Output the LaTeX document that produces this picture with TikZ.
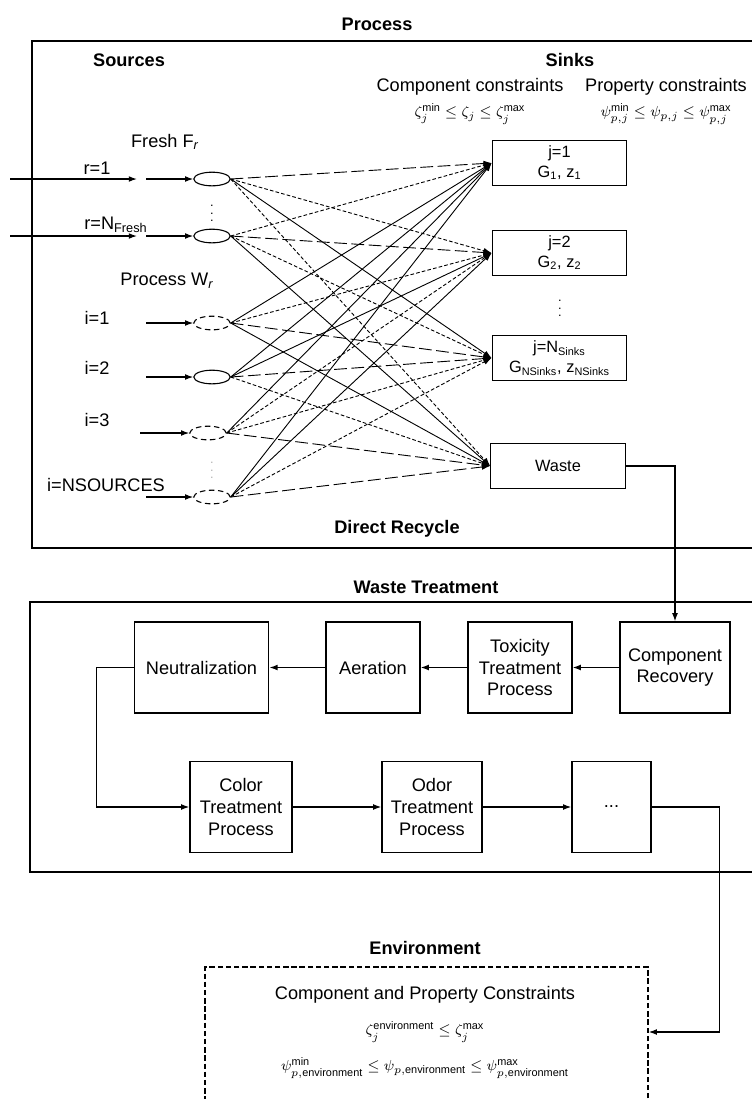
\documentclass[tikz,border=0pt]{standalone}
\usepackage{fontspec}
\setmainfont{Liberation Sans}
\usetikzlibrary{arrows.meta,shapes.geometric}

\begin{document}
\begin{tikzpicture}[x=0.55pt,y=-0.55pt,
  >={Latex[length=4.5pt,width=3.2pt]},
  frame/.style={draw,line width=0.8pt},
  head/.style={font=\bfseries},
  box/.style={draw,line width=0.7pt,align=center,inner sep=2pt},
  sink/.style={box,minimum width=74pt,minimum height=25pt,font=\small},
  unit/.style={box,minimum height=50pt},
  src/.style={ellipse,draw,line width=0.6pt,minimum width=20pt,minimum height=7.5pt,inner sep=0pt},
  eqn/.style={font=\footnotesize,inner sep=1pt},
  more/.style={font=\scriptsize,inner sep=0pt},
  feed/.style={->,line width=0.7pt},
  flow/.style={->,line width=0.7pt},
  net/.style={->,line width=0.5pt},
  solidlink/.style={net},
  longlink/.style={net,dash pattern=on 7pt off 2.5pt},
  dotlink/.style={net,dash pattern=on 2pt off 1.2pt}
]
  \useasboundingbox (0,0) rectangle (752,1099);
  \clip (0,0) rectangle (752,1099);

  % process block
  \node[head] (ptitle) at (377,24) {Process};
  \draw[frame] (32,41) rectangle (770,548);
  \node[head] (srchead) at (129,60) {Sources};
  \node[head] (sinkhead) at (570,60) {Sinks};
  \node[inner sep=1pt] (compc) at (470,87) {Component constraints};
  \node[inner sep=1pt] (propc) at (666,87) {Property constraints};
  \node[eqn] (compeq) at (470,114) {$\zeta_j^{\min}\le\zeta_j\le\zeta_j^{\max}$};
  \node[eqn] (propeq) at (666,114) {$\psi_{p,j}^{\min}\le\psi_{p,j}\le\psi_{p,j}^{\max}$};

  % sources
  \node (freshlbl) at (165,142) {Fresh F\textsubscript{\itshape r}};
  \node (proclbl) at (167,281) {Process W\textsubscript{\itshape r}};
  \node (r1lbl) at (97,168) {r=1};
  \node (rNlbl) at (116,225) {r=N\textsubscript{Fresh}};
  \node (i1lbl) at (97,318) {i=1};
  \node (i2lbl) at (97,368) {i=2};
  \node (i3lbl) at (97,420) {i=3};
  \node (iNlbl) at (106,485) {i=NSOURCES};

  \node[src] (fr1) at (212,179) {};
  \node[src] (frN) at (212,236) {};
  \node[src,densely dashed] (pw1) at (212,323) {};
  \node[src] (pw2) at (212,377) {};
  \node[src,densely dashed] (pw3) at (208,433) {};
  \node[src,densely dashed] (pwN) at (212,497) {};
  \node[more] (fdots) at (212,208) {$\vdots$};
  \node[more,gray!60] (pdots) at (212,465) {$\vdots$};

  % fresh water enters from outside
  \coordinate (fx1) at (10,179);
  \coordinate (fg1) at (137,179);
  \coordinate (fxN) at (10,236);
  \coordinate (fgN) at (137,236);
  \draw[feed] (fx1) -- (fg1);
  \draw[feed] (fxN) -- (fgN);

  \foreach \s/\y in {fr1/179,frN/236,pw1/323,pw2/377,pwN/497}
    \draw[feed] (146,\y) -- (\s.west);
  \draw[feed] (140,433) -- (pw3.west);

  % sinks
  \node[sink] (sk1) at (559.5,163) {j=1\\G\textsubscript{1}, z\textsubscript{1}};
  \node[sink] (sk2) at (559.5,253) {j=2\\G\textsubscript{2}, z\textsubscript{2}};
  \node[more] (sdots) at (560,303) {$\vdots$};
  \node[sink] (skN) at (559.5,358) {j=N\textsubscript{Sinks}\\G\textsubscript{NSinks}, z\textsubscript{NSinks}};
  \node[sink] (waste) at (558,466) {Waste};
  \node[head] (recycle) at (397,529) {Direct Recycle};

  % direct recycle network
  \foreach \s/\ta/\tb/\tc/\td in {
      fr1/longlink/dotlink/solidlink/dotlink,
      frN/dotlink/longlink/dotlink/solidlink,
      pw1/solidlink/dotlink/longlink/solidlink,
      pw2/solidlink/solidlink/longlink/dotlink,
      pw3/solidlink/dotlink/dotlink/longlink,
      pwN/solidlink/solidlink/dotlink/longlink}{
    \draw[\ta] (\s.east) -- (sk1.west);
    \draw[\tb] (\s.east) -- (sk2.west);
    \draw[\tc] (\s.east) -- (skN.west);
    \draw[\td] (\s.east) -- (waste.west);
  }

  % waste treatment block
  \node[head] (wtitle) at (426,587) {Waste Treatment};
  \draw[frame] (30,602) rectangle (770,872);
  \node[unit,minimum width=74pt] (neut) at (201.5,667.5) {Neutralization};
  \node[unit,minimum width=51.7pt] (aer) at (373,667.5) {Aeration};
  \node[unit,minimum width=57.2pt] (tox) at (520,667.5) {Toxicity\\Treatment\\Process};
  \node[unit,minimum width=60.5pt] (recov) at (675,667.5) {Component\\Recovery};
  \node[unit,minimum width=56.1pt] (color) at (241,807) {Color\\Treatment\\Process};
  \node[unit,minimum width=55pt] (odor) at (432,807) {Odor\\Treatment\\Process};
  \node[unit,minimum width=43.5pt] (etc) at (611.5,807) {...};

  \draw[flow] (waste.east) -| (recov.north);
  \draw[flow] (recov.west) -- (tox.east);
  \draw[flow] (tox.west) -- (aer.east);
  \draw[flow] (aer.west) -- (neut.east);
  \draw[flow] (neut.west) -- ++(-37,0) |- (color.west);
  \draw[flow] (color.east) -- (odor.west);
  \draw[flow] (odor.east) -- (etc.west);

  % environment
  \node[head] (etitle) at (425,948) {Environment};
  \node[draw,line width=0.8pt,dash pattern=on 3pt off 1.5pt,minimum width=243.6pt,minimum height=89.7pt] (env) at (426.5,1048.5) {};
  \node (envc) at (425,995) {Component and Property Constraints};
  \node[eqn] (enveq1) at (425,1032) {$\zeta_j^{\mathrm{environment}}\le\zeta_j^{\max}$};
  \node[eqn] (enveq2) at (425,1068) {$\psi_{p,\mathrm{environment}}^{\min}\le\psi_{p,\mathrm{environment}}\le\psi_{p,\mathrm{environment}}^{\max}$};
  \draw[flow] (etc.east) -- ++(68,0) |- (env.east |- enveq1);
\end{tikzpicture}
\end{document}
